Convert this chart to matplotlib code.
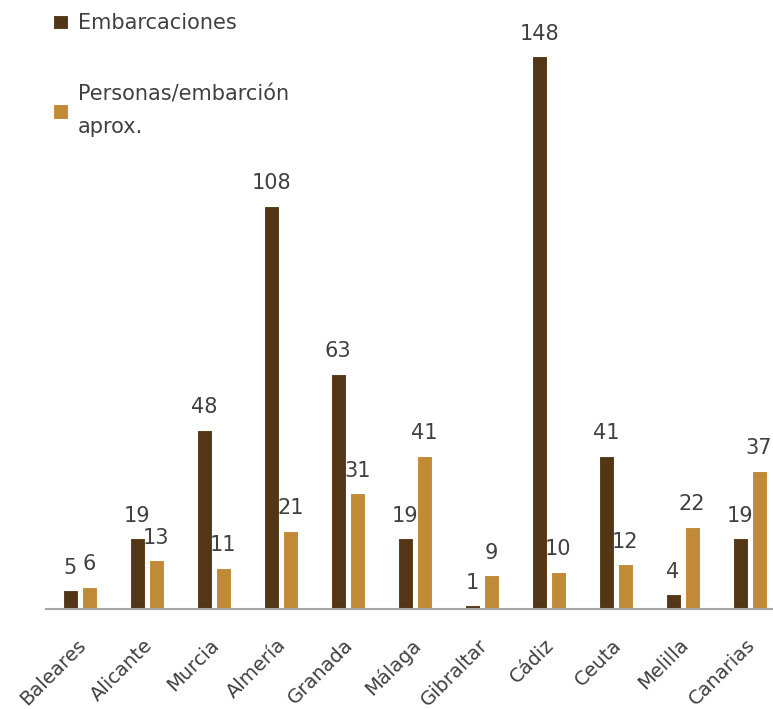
import numpy as np
import matplotlib
matplotlib.use("Agg")
import matplotlib.pyplot as plt
from matplotlib.transforms import ScaledTranslation

plt.rcParams['font.family'] = ['DejaVu Sans']

# Zones and the two series
zonas = ["Baleares", "Alicante", "Murcia", "Almería", "Granada", "Málaga",
         "Gibraltar", "Cádiz", "Ceuta", "Melilla", "Canarias"]
embarcaciones = [5, 19, 48, 108, 63, 19, 1, 148, 41, 4, 19]
personas = [6, 13, 11, 21, 31, 41, 9, 10, 12, 22, 37]

dark = "#533616"
gold = "#c08a37"
text_col = "#404040"
fs = 15

fig = plt.figure(figsize=(7.73, 7.09), dpi=100)
ax = fig.add_axes([0.060, 0.141, 0.953, 0.859])

x = np.arange(len(zonas))
w = 0.225
off = 0.142
b1 = ax.bar(x - off, embarcaciones, w, color=dark, edgecolor="white", linewidth=0.8,
            label="Embarcaciones")
b2 = ax.bar(x + off, personas, w, color=gold, edgecolor="white", linewidth=0.8,
            label="Personas/embarción\naprox.")

for bars, vals in [(b1, embarcaciones), (b2, personas)]:
    for r, v in zip(bars, vals):
        ax.annotate(str(v), (r.get_x() + r.get_width() / 2, v),
                    xytext=(0, 9), textcoords="offset points",
                    ha="center", va="bottom", fontsize=fs, color=text_col)

ax.set_xlim(-0.5, len(zonas) - 0.5)
ax.set_ylim(0, 163)
ax.set_yticks([])
for s in ["top", "right", "left"]:
    ax.spines[s].set_visible(False)
ax.spines["bottom"].set_color("#a6a6a6")
ax.spines["bottom"].set_linewidth(1.5)
ax.set_xticks(x)
ax.set_xticklabels(zonas, rotation=45, ha="right", rotation_mode="anchor",
                   fontsize=14, color=text_col)
ax.tick_params(axis="x", length=0, pad=14)
shift = ScaledTranslation(-4 / 100, -7 / 100, fig.dpi_scale_trans)
for lbl in ax.get_xticklabels():
    lbl.set_transform(lbl.get_transform() + shift)

leg = ax.legend(handles=[b1, b2], loc="upper left", bbox_to_anchor=(0.0556, 0.996),
                bbox_transform=fig.transFigure, frameon=False, borderpad=0,
                handlelength=0.72, handleheight=0.72, handletextpad=0.45,
                labelspacing=2.45, fontsize=fs)
for t in leg.get_texts():
    t.set_color(text_col)
    t.set_linespacing(1.78)

fig.savefig("out.png", dpi=100)
